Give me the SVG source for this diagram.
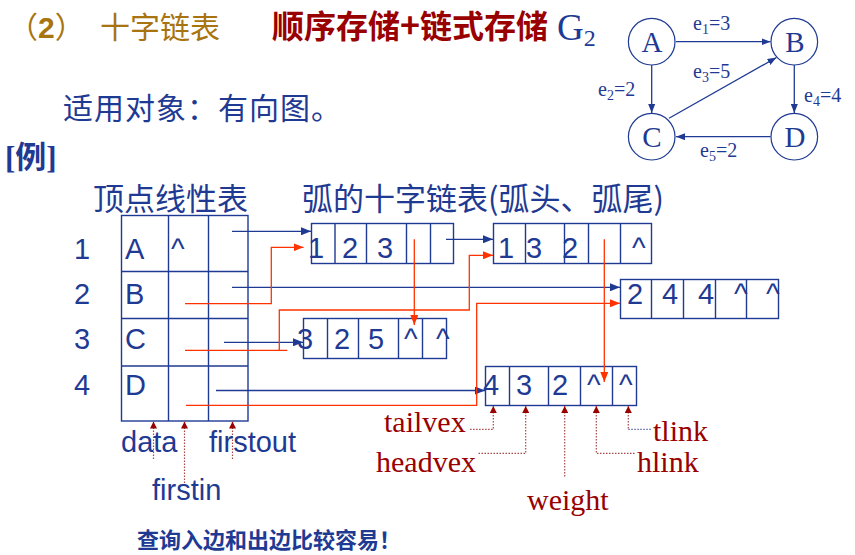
<svg xmlns="http://www.w3.org/2000/svg" width="855" height="555" viewBox="0 0 855 555">
<style>
.cell{fill:none;stroke:#1F3A93;stroke-width:1.4}
.bl{fill:none;stroke:#1F3A93;stroke-width:1.3}
.rd{fill:none;stroke:#FF3300;stroke-width:1.3}
.dot{fill:none;stroke:#A84848;stroke-width:1.2;stroke-dasharray:1.5 1.5}
.dotb{fill:none;stroke:#5A68A8;stroke-width:1.2;stroke-dasharray:1.5 1.5}
.sans{font-family:"Liberation Sans",Arial,sans-serif;font-size:29px;fill:#1F3A93}
.lab{font-family:"Liberation Serif","Times New Roman",serif;font-size:30px;fill:#990000}
.cjk{font-family:"Noto Sans CJK SC",sans-serif}
.gn{fill:#fff;stroke:#1F3A93;stroke-width:1.2}
.gt{font-family:"Liberation Serif","Times New Roman",serif;font-size:29px;fill:#1F3A93;text-anchor:middle}
.ge{font-family:"Liberation Serif","Times New Roman",serif;font-size:20px;fill:#1F3A93}
</style>
<defs>
<marker id="ab" viewBox="0 0 10 8" refX="10" refY="4" markerWidth="10" markerHeight="8" markerUnits="userSpaceOnUse" orient="auto"><path d="M0,0 L10,4 L0,8 z" fill="#1F3A93"/></marker>
<marker id="ar" viewBox="0 0 10 8" refX="10" refY="4" markerWidth="10" markerHeight="8" markerUnits="userSpaceOnUse" orient="auto"><path d="M0,0 L10,4 L0,8 z" fill="#FF3300"/></marker>
<marker id="ad" viewBox="0 0 7 7" refX="7" refY="3.5" markerWidth="7" markerHeight="7" markerUnits="userSpaceOnUse" orient="auto-start-reverse"><path d="M0,0 L7,3.5 L0,7 z" fill="#990000"/></marker>
<marker id="ag" viewBox="0 0 9 7" refX="9" refY="3.5" markerWidth="9" markerHeight="7" markerUnits="userSpaceOnUse" orient="auto"><path d="M0,0 L9,3.5 L0,7 z" fill="#1F3A93"/></marker>
</defs>
<rect width="855" height="555" fill="#fff"/>

<!-- titles -->
<g id="title">
<text x="8" y="38" class="cjk" font-size="30" fill="#A87410">（<tspan font-family="Liberation Sans,sans-serif" font-weight="bold">2</tspan>）</text>
<text x="100" y="38" class="cjk" font-size="30" fill="#A87410">十字链表</text>
<text x="272" y="38" class="cjk" font-size="32" font-weight="bold" fill="#990000">顺序存储<tspan font-size="34">+</tspan>链式存储</text>
<text x="557" y="40" font-family="Liberation Serif,serif" font-size="37" fill="#1F3A93">G<tspan font-size="24" dy="6">2</tspan></text>
<text x="63" y="119" class="cjk" font-size="30" letter-spacing="1" fill="#1F3A93">适用对象：有向图。</text>
<text x="5" y="168" font-family="Liberation Serif,'Noto Sans CJK SC',serif" font-size="31" font-weight="bold" fill="#1F3A93">[例]</text>
<text x="93" y="210" class="cjk" font-size="31" fill="#1F3A93">顶点线性表</text>
<text x="302" y="210" class="cjk" font-size="31" fill="#1F3A93">弧的十字链表(弧头、弧尾)</text>
</g>

<!-- graph G2 -->
<g id="graph-edges">
<path class="bl" d="M676,41.7 H770.5" marker-end="url(#ag)"/>
<path class="bl" d="M651.7,65 V113" marker-end="url(#ag)"/>
<path class="bl" d="M669,118.3 L776.5,57.5" marker-end="url(#ag)"/>
<path class="bl" d="M794.3,65 V113" marker-end="url(#ag)"/>
<path class="bl" d="M770.5,136.7 H676" marker-end="url(#ag)"/>
<text class="ge" x="693" y="30">e<tspan font-size="14" dy="4">1</tspan><tspan dy="-4">=3</tspan></text>
<text class="ge" x="598" y="96">e<tspan font-size="14" dy="4">2</tspan><tspan dy="-4">=2</tspan></text>
<text class="ge" x="693" y="78">e<tspan font-size="14" dy="4">3</tspan><tspan dy="-4">=5</tspan></text>
<text class="ge" x="804" y="102">e<tspan font-size="14" dy="4">4</tspan><tspan dy="-4">=4</tspan></text>
<text class="ge" x="700" y="157">e<tspan font-size="14" dy="4">5</tspan><tspan dy="-4">=2</tspan></text>
</g>
<g id="gA"><circle class="gn" cx="651.7" cy="41.7" r="23.3"/><text class="gt" x="652" y="52">A</text></g>
<g id="gB"><circle class="gn" cx="794.3" cy="41.7" r="23.3"/><text class="gt" x="795" y="52">B</text></g>
<g id="gC"><circle class="gn" cx="651.7" cy="136.7" r="23.3"/><text class="gt" x="652" y="147">C</text></g>
<g id="gD"><circle class="gn" cx="794.3" cy="136.7" r="23.3"/><text class="gt" x="795" y="147">D</text></g>

<!-- vertex table -->
<g id="vertex-table">
<rect class="cell" x="121.5" y="215.5" width="126.5" height="205.5"/>
<path class="cell" d="M168.5,215.5 V421 M208.5,215.5 V421 M121.5,271.5 H248 M121.5,318.5 H248 M121.5,366 H248"/>
<text class="sans" x="74" y="259">1</text>
<text class="sans" x="74" y="304">2</text>
<text class="sans" x="74" y="349">3</text>
<text class="sans" x="74" y="395">4</text>
<text class="sans" x="125" y="259">A</text>
<text class="sans" x="171" y="259">^</text>
<text class="sans" x="125" y="304">B</text>
<text class="sans" x="125" y="349">C</text>
<text class="sans" x="125" y="395">D</text>
</g>

<!-- arc nodes -->
<g id="arc-123">
<rect class="cell" x="311.5" y="223.5" width="142" height="40"/>
<path class="cell" d="M335,223.5 V263.5 M366.5,223.5 V263.5 M406.5,223.5 V263.5 M430.5,223.5 V263.5"/>
<text class="sans" x="308" y="258">1</text>
<text class="sans" x="342" y="258">2</text>
<text class="sans" x="377" y="258">3</text>
</g>
<g id="arc-132">
<rect class="cell" x="493.5" y="223.5" width="158" height="40"/>
<path class="cell" d="M525.5,223.5 V263.5 M564.5,223.5 V263.5 M588.5,223.5 V263.5 M620.5,223.5 V263.5"/>
<text class="sans" x="498" y="258">1</text>
<text class="sans" x="526" y="258">3</text>
<text class="sans" x="562" y="258">2</text>
<text class="sans" x="632" y="258">^</text>
</g>
<g id="arc-244">
<rect class="cell" x="620.5" y="279.5" width="158" height="39"/>
<path class="cell" d="M651.5,279.5 V318.5 M683.5,279.5 V318.5 M715.5,279.5 V318.5 M746.5,279.5 V318.5"/>
<text class="sans" x="627" y="304">2</text>
<text class="sans" x="662" y="304">4</text>
<text class="sans" x="698" y="304">4</text>
<text class="sans" x="734" y="304">^</text>
<text class="sans" x="766" y="304">^</text>
</g>
<g id="arc-325">
<rect class="cell" x="303.5" y="318.5" width="143" height="40"/>
<path class="cell" d="M327.5,318.5 V358.5 M358.5,318.5 V358.5 M398.5,318.5 V358.5 M422.5,318.5 V358.5"/>
<text class="sans" x="297" y="349">3</text>
<text class="sans" x="334" y="349">2</text>
<text class="sans" x="368" y="349">5</text>
<text class="sans" x="404" y="349">^</text>
<text class="sans" x="436" y="349">^</text>
</g>
<g id="arc-432">
<rect class="cell" x="485.5" y="366.5" width="151" height="39"/>
<path class="cell" d="M509.5,366.5 V405.5 M548.5,366.5 V405.5 M580.5,366.5 V405.5 M612.5,366.5 V405.5"/>
<text class="sans" x="483" y="395">4</text>
<text class="sans" x="516" y="395">3</text>
<text class="sans" x="552" y="395">2</text>
<text class="sans" x="587" y="395">^</text>
<text class="sans" x="619" y="395">^</text>
</g>

<!-- connectors -->
<g id="connectors">
<path class="bl" d="M232,231.3 H311" marker-end="url(#ab)"/>
<path class="bl" d="M446,239.3 H493" marker-end="url(#ab)"/>
<path class="bl" d="M232,287.3 H620" marker-end="url(#ab)"/>
<path class="bl" d="M224,342.3 H303" marker-end="url(#ab)"/>
<path class="bl" d="M216,390.5 H485" marker-end="url(#ab)"/>
<path class="rd" d="M185,303.7 H271.3 V247.3 H303.5" marker-end="url(#ar)"/>
<path class="rd" d="M185,350.3 H287.3"/>
<path class="rd" d="M279.3,350.3 V310 H469.3 V255.3 H493" marker-end="url(#ar)"/>
<path class="rd" d="M186,405.3 H476.7 V303.3 H620" marker-end="url(#ar)"/>
<path class="rd" d="M414.3,239.3 V325" marker-end="url(#ar)"/>
<path class="rd" d="M604.3,239.3 V382" marker-end="url(#ar)"/>
</g>

<!-- field labels -->
<g id="labels">
<path class="dot" d="M153.5,421.5 V460" marker-start="url(#ad)"/>
<path class="dot" d="M184.5,421.5 V484" marker-start="url(#ad)"/>
<path class="dot" d="M232.5,421.5 V460" marker-start="url(#ad)"/>
<text class="sans" x="121" y="452" font-size="30">data</text>
<text class="sans" x="209" y="452" font-size="30">firstout</text>
<text class="sans" x="152" y="500" font-size="30">firstin</text>

<path class="dot" d="M493.3,406 V429.3 H470" marker-start="url(#ad)"/>
<path class="dot" d="M525.7,406 V453.3 H477" marker-start="url(#ad)"/>
<path class="dot" d="M564.7,406 V478" marker-start="url(#ad)"/>
<path class="dot" d="M596.3,406 V453.3 H635" marker-start="url(#ad)"/>
<path class="dot" d="M628.3,406 V429.3" marker-start="url(#ad)"/>
<path class="dotb" d="M628.3,429.3 H652"/>
<text class="lab" x="384" y="432">tailvex</text>
<text class="lab" x="376" y="472">headvex</text>
<text class="lab" x="527" y="510">weight</text>
<text class="lab" x="653" y="441">tlink</text>
<text class="lab" x="637" y="472">hlink</text>
</g>

<text x="137" y="548" class="cjk" font-size="22" font-weight="600" fill="#1F3A93">查询入边和出边比较容易！</text>
</svg>
